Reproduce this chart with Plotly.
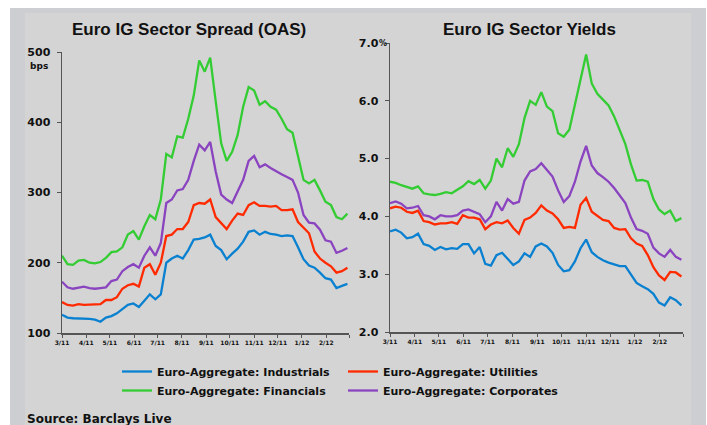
import plotly.graph_objects as go
import pandas as pd

# ---------------- data (weekly readings) ----------------
dates = pd.date_range("2011-03-01", periods=53, freq="7D")

names = ["Euro-Aggregate: Industrials", "Euro-Aggregate: Utilities",
         "Euro-Aggregate: Financials", "Euro-Aggregate: Corporates"]
colors = ["#0a80d0", "#ff2a00", "#33cc33", "#8b44c0"]
legend_groups = ["legend", "legend2", "legend", "legend2"]

month_ticks = ["2011-03-01", "2011-04-01", "2011-05-01", "2011-06-01", "2011-07-01",
               "2011-08-01", "2011-09-01", "2011-10-01", "2011-11-01", "2011-12-01",
               "2012-01-01", "2012-02-01", "2012-03-01"]
month_labels = ["3/11", "4/11", "5/11", "6/11", "7/11", "8/11", "9/11", "10/11",
                "11/11", "12/11", "1/12", "2/12", ""]

# Spread (OAS, bps)
oas_industrials = [126, 122, 121, 121, 121, 120, 119, 116, 122, 124, 128, 134, 140, 142, 137, 146,
                   155, 148, 155, 200, 206, 210, 206, 218, 233, 234, 236, 240, 224, 218, 205, 213,
                   220, 230, 244, 246, 240, 244, 241, 240, 238, 239, 238, 222, 205, 196, 193, 186,
                   178, 176, 164, 167, 170]
oas_utilities = [144, 140, 139, 141, 140, 140, 140, 141, 147, 147, 151, 163, 168, 170, 166, 193,
                 198, 183, 200, 238, 240, 248, 248, 258, 282, 285, 284, 290, 265, 256, 248, 260,
                 270, 268, 282, 286, 281, 281, 280, 281, 275, 275, 276, 258, 250, 242, 216, 206,
                 200, 195, 186, 188, 193]
oas_financials = [210, 198, 197, 203, 204, 200, 199, 201, 207, 215, 216, 222, 240, 245, 233, 252,
                  268, 262, 290, 355, 350, 380, 378, 405, 438, 488, 472, 492, 430, 370, 345, 358,
                  382, 422, 450, 445, 425, 430, 422, 418, 405, 390, 385, 350, 318, 313, 318, 303,
                  287, 282, 265, 262, 270]
oas_corporates = [173, 165, 163, 165, 166, 164, 163, 164, 165, 174, 176, 188, 194, 198, 193, 210,
                  222, 210, 228, 285, 290, 303, 305, 318, 345, 368, 360, 372, 330, 297, 290, 285,
                  302, 318, 345, 352, 336, 340, 335, 330, 326, 322, 318, 300, 268, 257, 256, 247,
                  232, 230, 214, 217, 221]

# Yields (%)
yld_industrials = [3.74, 3.77, 3.72, 3.62, 3.64, 3.70, 3.52, 3.49, 3.42, 3.47, 3.43, 3.45, 3.44,
                   3.52, 3.52, 3.36, 3.47, 3.18, 3.15, 3.33, 3.37, 3.27, 3.16, 3.22, 3.36, 3.30,
                   3.48, 3.53, 3.48, 3.37, 3.16, 3.05, 3.07, 3.22, 3.45, 3.60, 3.38, 3.30, 3.24,
                   3.20, 3.17, 3.14, 3.14, 3.00, 2.85, 2.79, 2.74, 2.66, 2.51, 2.46, 2.60, 2.55, 2.46]
yld_utilities = [4.14, 4.17, 4.15, 4.08, 4.06, 4.10, 3.92, 3.90, 3.86, 3.88, 3.88, 3.90, 3.87,
                 4.02, 3.98, 3.98, 3.95, 3.78, 3.86, 3.90, 3.88, 3.93, 3.80, 3.70, 3.94, 3.98,
                 4.06, 4.19, 4.10, 4.05, 3.95, 3.80, 3.82, 3.80, 4.20, 4.32, 4.08, 4.01, 3.94,
                 3.92, 3.80, 3.77, 3.78, 3.62, 3.53, 3.49, 3.33, 3.12, 2.98, 2.90, 3.04, 3.03, 2.96]
yld_financials = [4.60, 4.58, 4.54, 4.51, 4.48, 4.52, 4.40, 4.38, 4.37, 4.39, 4.42, 4.40, 4.46,
                  4.52, 4.61, 4.56, 4.63, 4.48, 4.62, 5.00, 4.85, 5.18, 5.03, 5.25, 5.70, 6.00,
                  5.93, 6.15, 5.90, 5.82, 5.44, 5.38, 5.50, 5.95, 6.40, 6.80, 6.30, 6.12, 6.02,
                  5.92, 5.73, 5.50, 5.25, 4.90, 4.62, 4.63, 4.60, 4.30, 4.12, 4.04, 4.10, 3.92, 3.97]
yld_corporates = [4.23, 4.26, 4.22, 4.14, 4.15, 4.18, 4.02, 4.00, 3.95, 4.02, 4.00, 4.00, 4.02,
                  4.10, 4.12, 4.08, 4.04, 3.90, 4.00, 4.25, 4.10, 4.30, 4.22, 4.25, 4.62, 4.78,
                  4.82, 4.92, 4.80, 4.69, 4.45, 4.25, 4.35, 4.60, 4.95, 5.22, 4.88, 4.75, 4.68,
                  4.60, 4.49, 4.36, 4.23, 3.98, 3.78, 3.75, 3.70, 3.46, 3.36, 3.30, 3.42, 3.30, 3.25]

oas_series = [oas_industrials, oas_utilities, oas_financials, oas_corporates]
yld_series = [yld_industrials, yld_utilities, yld_financials, yld_corporates]

oas_ticks = [100, 200, 300, 400, 500]
yld_ticks = [2, 3, 4, 5, 6, 7]
yld_labels = ["2.0", "3.0", "4.0", "5.0", "6.0", "7.0"]

# ---------------- figure ----------------
W, H = 707, 425
SMALL = "DejaVu Sans"
TITLE = "Liberation Sans, Arial, sans-serif"
AX = "#555555"

fig = go.Figure()
for nm, col, vals, lg in zip(names, colors, oas_series, legend_groups):
    fig.add_trace(go.Scatter(x=dates, y=vals, name=nm, mode="lines", legend=lg,
                             line=dict(color=col, width=2.3), xaxis="x", yaxis="y"))
for nm, col, vals in zip(names, colors, yld_series):
    fig.add_trace(go.Scatter(x=dates, y=vals, name=nm, mode="lines", showlegend=False,
                             line=dict(color=col, width=2.3), xaxis="x2", yaxis="y2"))

def px(x):
    return x / W

def py(y):
    return 1 - y / H

xcommon = dict(type="date", range=["2011-03-01", "2012-03-01"], tickvals=month_ticks,
               ticktext=month_labels, showgrid=False, zeroline=False, showline=True,
               linecolor=AX, linewidth=1.5, ticks="outside", ticklen=3, tickcolor=AX,
               tickwidth=1, tickfont=dict(family=SMALL, size=6, color="#111111", weight="bold"),
               fixedrange=True, automargin=False)
ycommon = dict(showgrid=False, zeroline=False, showline=True, linecolor=AX, linewidth=1.5,
               ticks="outside", ticklen=4, tickcolor=AX, tickwidth=1,
               tickfont=dict(family=SMALL, size=11, color="#111111", weight="bold"),
               ticklabelstandoff=4, fixedrange=True, automargin=False)
legfont = dict(family=SMALL, size=11, color="#111111", weight="bold")

fig.update_layout(
    width=W, height=H, autosize=False,
    margin=dict(l=0, r=0, t=0, b=0, autoexpand=False),
    paper_bgcolor="white", plot_bgcolor="rgba(0,0,0,0)",
    hovermode=False,
    xaxis=dict(domain=[px(62), px(349)], anchor="y", **xcommon),
    yaxis=dict(domain=[py(333), py(52)], anchor="x", range=[100, 500], tickvals=oas_ticks,
               **ycommon),
    xaxis2=dict(domain=[px(390), px(683)], anchor="y2", **xcommon),
    yaxis2=dict(domain=[py(332), py(43)], anchor="x2", range=[2, 7], tickvals=yld_ticks,
                ticktext=yld_labels, **ycommon),
    showlegend=True,
    legend=dict(orientation="v", x=px(117), xanchor="left", y=py(357), yanchor="top",
                bgcolor="rgba(0,0,0,0)", borderwidth=0, tracegroupgap=0, font=legfont),
    legend2=dict(orientation="v", x=px(343), xanchor="left", y=py(357), yanchor="top",
                 bgcolor="rgba(0,0,0,0)", borderwidth=0, tracegroupgap=0, font=legfont),
    shapes=[
        dict(type="rect", xref="paper", yref="paper", x0=px(10), x1=px(706), y0=0, y1=py(8),
             fillcolor="#cdced1", line=dict(width=0), layer="below"),
        dict(type="rect", xref="paper", yref="paper", x0=px(25), x1=px(691), y0=0, y1=py(13),
             fillcolor="#d4d4d4", line=dict(width=0), layer="below"),
    ],
    annotations=[
        dict(text="<b>Euro IG Sector Spread (OAS)</b>", x=px(189), y=py(30), xref="paper",
             yref="paper", showarrow=False, xanchor="center", yanchor="middle",
             font=dict(family=TITLE, size=17, color="#111111")),
        dict(text="<b>Euro IG Sector Yields</b>", x=px(529), y=py(30), xref="paper",
             yref="paper", showarrow=False, xanchor="center", yanchor="middle",
             font=dict(family=TITLE, size=17, color="#111111")),
        dict(text="<b>bps</b>", x=px(39), y=py(66), xref="paper", yref="paper",
             showarrow=False, xanchor="center", yanchor="middle",
             font=dict(family=SMALL, size=9, color="#111111")),
        dict(text="<b>%</b>", x=px(383), y=py(44), xref="paper", yref="paper",
             showarrow=False, xanchor="center", yanchor="middle",
             font=dict(family=SMALL, size=8, color="#111111")),
        dict(text="<b>Source: Barclays Live</b>", x=px(25), y=py(419), xref="paper",
             yref="paper", showarrow=False, xanchor="left", yanchor="middle",
             font=dict(family=SMALL, size=12, color="#111111")),
    ],
)

fig.write_html("out.html", config={"displayModeBar": False, "staticPlot": True},
               post_script="document.body.style.margin='0px';")
